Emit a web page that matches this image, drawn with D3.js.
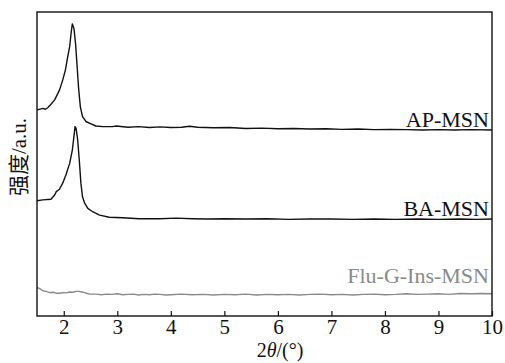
<!DOCTYPE html>
<html>
<head>
<meta charset="utf-8">
<script src="https://cdn.jsdelivr.net/npm/d3@7"></script>
<style>
  html, body { margin: 0; padding: 0; background: #fff; }
  svg { display: block; }
  text { font-family: "Liberation Serif", "Times New Roman", "Noto Sans CJK SC", serif; fill: #111; }
</style>
</head>
<body>
<svg id="chart" width="505" height="363"></svg>
<script>
// Small-angle XRD patterns, 2θ in degrees vs. relative intensity (a.u., offset per sample)
const apTheta = [1.50, 1.61, 1.66, 1.70, 1.75, 1.83, 1.92, 1.98, 2.03, 2.07, 2.11, 2.14, 2.16, 2.19, 2.22, 2.25, 2.28, 2.31, 2.35, 2.42, 2.51, 2.60, 2.73, 2.91, 2.98,
  3.2, 3.4, 3.6, 3.8, 4.0, 4.2, 4.35, 4.5, 4.8, 5.1, 5.4, 5.7, 6.0, 6.3, 6.6, 6.9, 7.2, 7.5, 7.8, 8.1, 8.4, 8.7, 9.0, 9.3, 9.6, 10.0];
const apValue = [67.8, 68.3, 68.0, 68.5, 69.4, 71.1, 74.3, 77.6, 80.9, 84.9, 88.6, 93.5, 96.1, 94.6, 89.7, 82.0, 74.3, 68.8, 65.6, 63.9, 63.2, 62.5, 62.3, 62.3, 62.5,
  62.1, 62.3, 62.0, 62.2, 62.0, 62.1, 62.4, 62.1, 61.9, 62.0, 61.7, 61.8, 61.6, 61.7, 61.5, 61.6, 61.4, 61.5, 61.3, 61.4, 61.3, 61.2, 61.3, 61.2, 61.3, 61.2];

const baTheta = [1.50, 1.61, 1.76, 1.83, 1.86, 1.92, 1.98, 2.04, 2.11, 2.16, 2.19, 2.21, 2.23, 2.26, 2.29, 2.32, 2.35, 2.39, 2.45, 2.54, 2.67, 2.85, 3.10, 3.41,
  3.79, 4.1, 4.4, 4.7, 5.0, 5.4, 5.8, 6.2, 6.6, 7.0, 7.4, 7.8, 8.2, 8.6, 9.0, 9.4, 9.7, 10.0];
const baValue = [37.9, 38.2, 38.4, 39.8, 40.9, 41.7, 43.7, 46.4, 50.2, 54.6, 59.0, 62.3, 61.7, 57.9, 51.3, 43.7, 39.2, 37.1, 35.4, 34.3, 33.2, 32.5, 32.3, 32.0,
  32.0, 32.2, 32.0, 31.9, 32.0, 31.9, 32.0, 31.8, 31.9, 31.9, 31.8, 31.9, 31.8, 31.9, 31.8, 31.9, 31.8, 31.9];

const fluTheta = [1.50, 1.55, 1.61, 1.67, 1.73, 1.80, 1.86, 1.92, 1.98, 2.05, 2.11, 2.17, 2.23, 2.29, 2.34, 2.39, 2.44, 2.48,
  2.6, 2.7, 2.8, 2.9, 3.0, 3.1, 3.2, 3.3, 3.4, 3.5, 3.6, 3.7, 3.8, 3.9, 4.0, 4.2, 4.4, 4.6, 4.8, 5.0, 5.2, 5.4, 5.6, 5.8, 6.0,
  6.2, 6.4, 6.6, 6.8, 7.0, 7.2, 7.4, 7.6, 7.8, 8.0, 8.2, 8.4, 8.6, 8.8, 9.0, 9.2, 9.4, 9.6, 9.8, 10.0];
const fluValue = [9.4, 9.0, 8.3, 8.1, 7.7, 7.8, 7.5, 7.5, 7.7, 7.6, 7.9, 7.8, 8.1, 8.1, 7.9, 7.7, 7.4, 7.2,
  7.2, 7.0, 7.2, 7.1, 7.3, 7.0, 7.1, 7.2, 6.9, 7.1, 7.0, 7.2, 7.1, 6.9, 7.0, 7.2, 7.0, 7.1, 6.9, 7.1, 7.0, 7.2, 6.9, 7.1, 7.0,
  7.1, 6.9, 7.1, 7.2, 7.0, 7.1, 6.9, 7.1, 7.2, 7.0, 7.1, 7.3, 7.1, 7.2, 7.3, 7.1, 7.4, 7.3, 7.4, 7.3];

const seriesNames = ["AP-MSN", "BA-MSN", "Flu-G-Ins-MSN"];
const seriesColors = ["#111111", "#111111", "#8a8a8a"];
const labelValues = [62.3, 32.9, 10.8];   // label baselines, just above each trace's tail
const xTicks = [2, 3, 4, 5, 6, 7, 8, 9, 10];

const svg = d3.select("#chart");
const margin = { left: 37, top: 12, right: 13, bottom: 47 };
const W = 505, H = 363;

const x = d3.scaleLinear().domain([1.5, 10]).range([margin.left, W - margin.right]);
const y = d3.scaleLinear().domain([0, 100]).range([H - margin.bottom, margin.top]);

const series = [
  apTheta.map((t, i) => [t, apValue[i]]),
  baTheta.map((t, i) => [t, baValue[i]]),
  fluTheta.map((t, i) => [t, fluValue[i]])
];

const line = d3.line().x(d => x(d[0])).y(d => y(d[1])).curve(d3.curveLinear);

svg.selectAll("path.trace")
  .data(series)
  .join("path")
  .attr("class", "trace")
  .attr("d", line)
  .attr("fill", "none")
  .attr("stroke", (d, i) => seriesColors[i])
  .attr("stroke-width", 1.4)
  .attr("stroke-linejoin", "round");

// Bottom axis with inward ticks
const xAxis = d3.axisBottom(x).tickValues(xTicks).tickFormat(d3.format("d"))
  .tickSizeInner(-5).tickSizeOuter(0).tickPadding(3);
const gx = svg.append("g").attr("transform", `translate(0,${y(0)})`).call(xAxis);
gx.attr("font-size", null).attr("font-family", null);
gx.select(".domain").remove();
gx.selectAll(".tick line").attr("stroke", "#111").attr("stroke-width", 1.2);
gx.selectAll(".tick text").style("font-size", "21px").style("fill", "#111");

// Frame
svg.append("rect")
  .attr("x", x(1.5)).attr("y", y(100))
  .attr("width", x(10) - x(1.5)).attr("height", y(0) - y(100))
  .attr("fill", "none").attr("stroke", "#111").attr("stroke-width", 1.4);

// Sample labels
svg.selectAll("text.label")
  .data(seriesNames)
  .join("text")
  .attr("class", "label")
  .attr("x", x(10) - 3)
  .attr("y", (d, i) => y(labelValues[i]))
  .attr("text-anchor", "end")
  .style("font-size", "22px")
  .style("fill", (d, i) => seriesColors[i])
  .text(d => d);

// Axis titles
const xt = svg.append("text")
  .attr("x", 280).attr("y", 357)
  .attr("text-anchor", "middle")
  .style("font-size", "20px");
xt.append("tspan").text("2");
xt.append("tspan").attr("font-style", "italic").text("θ");
xt.append("tspan").text("/(°)");

svg.append("text")
  .attr("transform", `translate(26,157) rotate(-90)`)
  .attr("text-anchor", "middle")
  .style("font-size", "21px")
  .text("强度/a.u.");
</script>
</body>
</html>
